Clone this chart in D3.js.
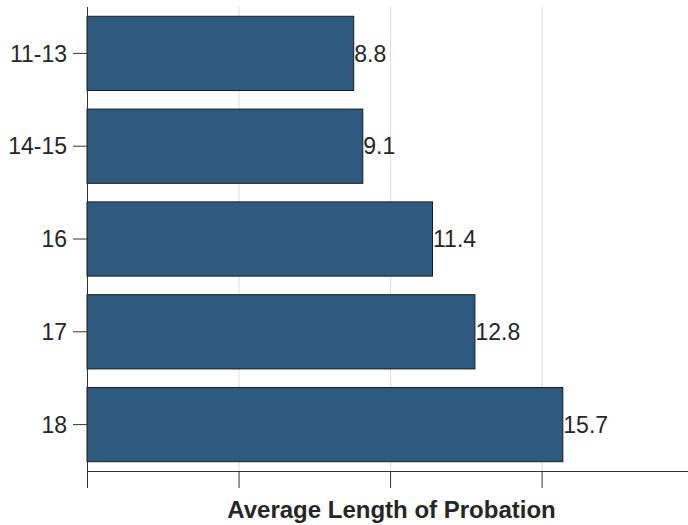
<!DOCTYPE html>
<html><head><meta charset="utf-8">
<script src="https://cdn.jsdelivr.net/npm/d3@7"></script>
<style>body{margin:0;background:#fff}svg{display:block}</style>
</head><body>
<svg id="c" width="688" height="525"></svg>
<script>
const categories = ["11-13", "14-15", "16", "17", "18"];
const values = [8.8, 9.1, 11.4, 12.8, 15.7];
const xTicks = [0, 5, 10, 15, 20];
const xTitle = "Average Length of Probation";

(function () {
const svg = d3.select("#c");
const mLeft = 87, mRight = 688, mTop = 7, mBottom = 471;
const x = d3.scaleLinear().domain([0, 19.83]).range([mLeft, mRight]);
const y = d3.scaleBand().domain(categories).range([mTop, mBottom]).paddingInner(0.2).paddingOuter(0.1);
const font = "'Liberation Sans', Arial, sans-serif";

// gridlines
svg.append("g").selectAll("line").data(xTicks.filter(t => x(t) <= mRight && t > 0)).join("line")
  .attr("x1", d => x(d) + 0.5).attr("x2", d => x(d) + 0.5).attr("y1", mTop).attr("y2", mBottom)
  .attr("stroke", "#dcdcdc").attr("stroke-width", 1);

// bars
svg.append("g").selectAll("rect").data(values).join("rect")
  .attr("x", x(0)).attr("y", (d, i) => y(categories[i]))
  .attr("width", d => x(d) - x(0)).attr("height", y.bandwidth())
  .attr("fill", "#2e5a80").attr("stroke", "#1b1b1b").attr("stroke-width", 1);

// value labels
svg.append("g").selectAll("text").data(values).join("text")
  .attr("x", d => x(d) + 0.5).attr("y", (d, i) => y(categories[i]) + y.bandwidth() / 2)
  .attr("dy", "0.36em").attr("font-family", font).attr("font-size", 23).attr("fill", "#262626")
  .text(d => d.toFixed(1));

// x axis
const xa = svg.append("g").attr("transform", `translate(0,${mBottom})`)
  .call(d3.axisBottom(x).tickValues(xTicks.filter(t => x(t) <= mRight)).tickSize(17).tickFormat(""));
xa.select(".domain").attr("d", `M${mLeft},0.5H${mRight}`).attr("stroke", "#333");
xa.selectAll(".tick line").attr("stroke", "#333");

// y axis
const ya = svg.append("g").attr("transform", `translate(${mLeft},0)`)
  .call(d3.axisLeft(y).tickSize(14).tickPadding(6));
ya.select(".domain").attr("d", `M0.5,${mTop}V${mBottom + 17}`).attr("stroke", "#333");
ya.selectAll(".tick line").attr("stroke", "#333");
ya.selectAll(".tick text").attr("font-family", font).attr("font-size", 23).attr("fill", "#262626").attr("dy", "0.36em");

// x title
svg.append("text").attr("x", (mLeft + mRight) / 2 + 4).attr("y", 518).attr("text-anchor", "middle")
  .attr("font-family", font).attr("font-size", 24).attr("font-weight", "bold").attr("fill", "#262626")
  .text(xTitle);
})();
</script>
</body></html>
